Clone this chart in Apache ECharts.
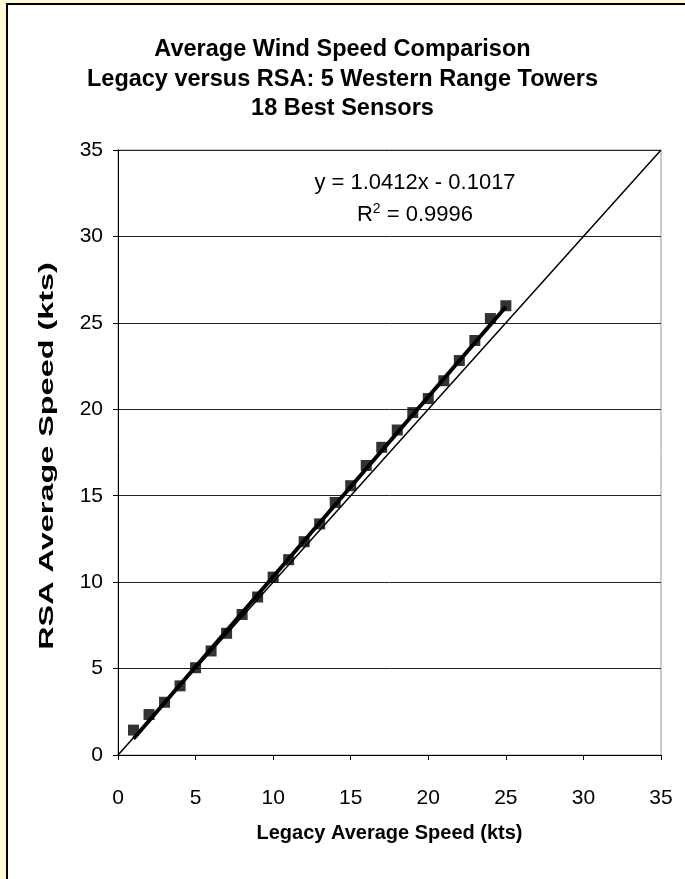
<!DOCTYPE html>
<html>
<head>
<meta charset="utf-8">
<script src="https://cdn.jsdelivr.net/npm/echarts@6/dist/echarts.min.js"></script>
<style>
html,body{margin:0;padding:0;background:#FEF8DC;width:685px;height:879px;overflow:hidden;}
#frame{position:absolute;left:6px;top:3px;width:720px;height:920px;background:#fff;border:2px solid #000;box-sizing:border-box;}
#chart{position:absolute;left:0;top:0;width:685px;height:879px;}
</style>
</head>
<body>
<div id="frame"></div>
<div id="chart"></div>
<script>
const titleLines = ['Average Wind Speed Comparison', 'Legacy versus RSA: 5 Western Range Towers', '18 Best Sensors'];
const xAxisName = 'Legacy Average Speed (kts)';
const yAxisName = 'RSA Average Speed (kts)';
const legacySpeed = [1, 2, 3, 4, 5, 6, 7, 8, 9, 10, 11, 12, 13, 14, 15, 16, 17, 18, 19, 20, 21, 22, 23, 24, 25];
const rsaSpeed = [1.44, 2.34, 3.05, 4.0, 5.05, 6.02, 7.04, 8.13, 9.14, 10.29, 11.3, 12.34, 13.37, 14.61, 15.58, 16.75, 17.8, 18.8, 19.81, 20.62, 21.65, 22.82, 23.98, 25.25, 25.99];
const trendSlope = 1.0412;
const trendIntercept = -0.1017;
const rSquared = '0.9996';
const axisMin = 0, axisMax = 35, axisStep = 5;

const scatterData = legacySpeed.map((x, i) => [x, rsaSpeed[i]]);
const xLo = Math.min(...legacySpeed), xHi = Math.max(...legacySpeed);
const trendData = [[xLo, trendSlope * xLo + trendIntercept], [xHi, trendSlope * xHi + trendIntercept]];
const identityData = [[axisMin, axisMin], [axisMax, axisMax]];

const font = 'Liberation Sans, Arial, sans-serif';
const chart = echarts.init(document.getElementById('chart'), null, {renderer: 'canvas'});
chart.setOption({
  backgroundColor: 'transparent',
  animation: false,
  title: {
    text: titleLines.join('\n'),
    left: 'center',
    top: 30,
    textStyle: {fontFamily: font, fontWeight: 'bold', fontSize: 23.5, color: '#000', lineHeight: 29.5}
  },
  grid: {left: 118, right: 24, top: 150, bottom: 124, show: true, backgroundColor: '#fff', borderColor: '#999', borderWidth: 1},
  xAxis: {
    type: 'value', min: axisMin, max: axisMax, interval: axisStep,
    name: xAxisName, nameLocation: 'middle', nameGap: 68,
    nameTextStyle: {fontFamily: font, fontWeight: 'bold', fontSize: 20, color: '#000'},
    axisLine: {show: true, onZero: false, lineStyle: {color: '#000', width: 1}},
    axisTick: {show: true, inside: false, length: 5, lineStyle: {color: '#000'}},
    axisLabel: {fontFamily: font, fontSize: 21, color: '#000', margin: 33},
    splitLine: {show: false}
  },
  yAxis: {
    type: 'value', min: axisMin, max: axisMax, interval: axisStep,
    axisLine: {show: true, onZero: false, lineStyle: {color: '#000', width: 1}},
    axisTick: {show: true, inside: false, length: 5, lineStyle: {color: '#000'}},
    axisLabel: {fontFamily: font, fontSize: 21, color: '#000', margin: 15},
    splitLine: {show: true, lineStyle: {color: '#222', width: 1}}
  },
  graphic: [
    {
      type: 'text', x: 47, y: 456, rotation: Math.PI / 2, scaleX: 1.62, scaleY: 1,
      style: {text: yAxisName, fontFamily: font, fontWeight: 'bold', fontSize: 20, fill: '#000', align: 'center', verticalAlign: 'middle'}
    },
    {
      type: 'text', x: 415, y: 183,
      style: {text: 'y = ' + trendSlope + 'x - ' + Math.abs(trendIntercept), fontFamily: font, fontSize: 22, fill: '#000', align: 'center', verticalAlign: 'middle'}
    },
    {
      type: 'text', x: 415, y: 215,
      style: {
        text: '{r|R}{s|2}{r| = ' + rSquared + '}',
        align: 'center', verticalAlign: 'middle',
        rich: {
          r: {fontFamily: font, fontSize: 22, fill: '#000'},
          s: {fontFamily: font, fontSize: 14, fill: '#000', verticalAlign: 'top', padding: [0, 0, 12, 0]}
        }
      }
    }
  ],
  series: [
    {type: 'line', data: identityData, symbol: 'none', lineStyle: {color: '#000', width: 1.5}, z: 2},
    {type: 'line', data: trendData, symbol: 'none', lineStyle: {color: '#000', width: 4}, z: 3},
    {type: 'scatter', data: scatterData, symbol: 'rect', symbolSize: 11, itemStyle: {color: '#000'}, z: 4}
  ]
});
</script>
</body>
</html>
